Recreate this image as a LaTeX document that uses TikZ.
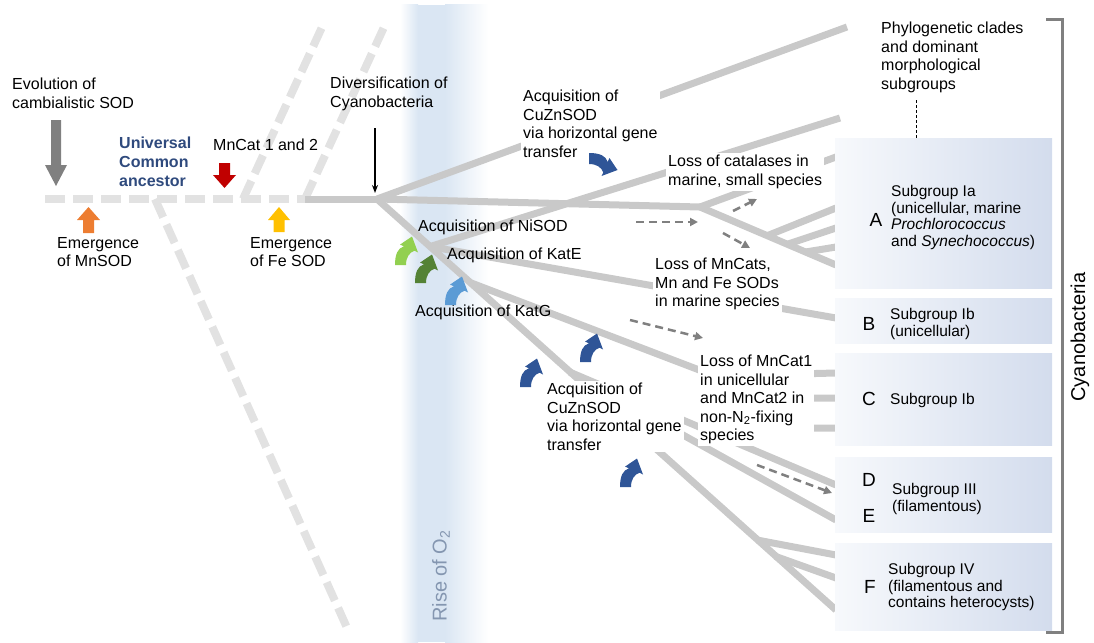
\documentclass[tikz,border=0pt]{standalone}
\usepackage{fontspec}
\setmainfont{Liberation Sans}
\usetikzlibrary{arrows.meta}
\definecolor{treegray}{RGB}{201,201,201}
\definecolor{dashgray}{RGB}{226,226,226}
\definecolor{arrgray}{RGB}{128,128,128}
\definecolor{navy}{RGB}{47,74,125}
\definecolor{bandblue}{RGB}{218,230,243}
\definecolor{boxL}{RGB}{247,249,252}
\definecolor{boxR}{RGB}{211,220,237}
\definecolor{riseblue}{RGB}{132,150,176}
\definecolor{cvgreenL}{RGB}{146,208,80}
\definecolor{cvgreenD}{RGB}{84,130,53}
\definecolor{cvblueL}{RGB}{91,155,213}
\definecolor{cvblueD}{RGB}{47,85,151}
\definecolor{redarr}{RGB}{192,0,0}
\definecolor{orangearr}{RGB}{237,125,49}
\definecolor{yellowarr}{RGB}{255,192,0}
\begin{document}
\begin{tikzpicture}[x=1pt,y=-1pt,
  tree/.style={draw=treegray, line width=7pt},
  dtree/.style={draw=dashgray, line width=8pt, dash pattern=on 20pt off 8pt},
  darr/.style={draw=arrgray, line width=2.5pt, dash pattern=on 8pt off 5pt, -{Triangle[length=8pt,width=8pt]}},
  lbl/.style={anchor=north west, inner sep=0pt, align=left, font=\fontsize{16}{18.5}\selectfont},
  wlbl/.style={lbl, fill=white, inner sep=2pt},
  boxtxt/.style={anchor=north west, inner sep=0pt, align=left, font=\fontsize{15.5}{16.7}\selectfont},
  letter/.style={inner sep=0pt, font=\fontsize{19}{20}\selectfont},
  cladebox/.style={anchor=north west, left color=boxL, right color=boxR, draw=none, minimum width=217pt, inner sep=0pt},
  curvarrow/.pic={\fill (0,0) .. controls (0,-11) and (3,-17) .. (9,-18.7) -- (5,-20.4) -- (17,-28.5) -- (23,-12.5) -- (19.5,-14.3) .. controls (14.5,-12.5) and (11,-8) .. (11,0) -- cycle;}
]
\useasboundingbox (0,0) rectangle (1094,642);

% band
\shade[left color=white, right color=bandblue] (400,5) rectangle (418,642);
\fill[bandblue] (418,5) rectangle (445,642);
\shade[left color=bandblue, right color=white] (445,5) rectangle (488,642);
\node[rotate=90, font=\fontsize{20}{22}\selectfont, text=riseblue] (rise) at (441,576) {Rise of O\textsubscript{2}};

% coordinates
\coordinate (R) at (377,199);
\coordinate (H0) at (45,199);
\coordinate (H1) at (305,199);
\coordinate (DD0) at (155,199);
\coordinate (DD1) at (348,630);
\coordinate (DU0) at (243,199);
\coordinate (DU1) at (323,25);
\coordinate (DV1) at (385,25);
\coordinate (T1) at (847,27);
\coordinate (N2) at (700,207);
\coordinate (FE) at (836,610);
\coordinate (N1) at (430,246.6);
\coordinate (N5) at (470,282.5);
\coordinate (N4) at (570,372.2);
\coordinate (NF1) at (757,540);
\coordinate (NF2) at (775,556.2);
\coordinate (T2) at (840,118);
\coordinate (EB) at (836,318);
\coordinate (NC) at (715,376);
\coordinate (NC2) at (730,398);
\coordinate (NC3) at (740,428);
\coordinate (C1) at (836,373);
\coordinate (C2) at (836,398);
\coordinate (C3) at (836,428);
\coordinate (ED) at (836,485);
\coordinate (EE) at (836,520);
\coordinate (EF1) at (836,555);
\coordinate (EF2) at (836,578);
\coordinate (EA0) at (836,157);
\coordinate (EA4) at (836,265);
\coordinate (S1) at (767,235.8);
\coordinate (S2) at (787,244.4);
\coordinate (S3) at (805,252.1);
\coordinate (EA1) at (836,208);
\coordinate (EA2) at (836,228);
\coordinate (EA3) at (836,247);

% dashed ancestral lines
\path[dtree] (H0) -- (H1);
\path[dtree] (DD0) -- (DD1);
\path[dtree] (DU0) -- (DU1);
\path[dtree] (H1) -- (DV1);

% solid tree
\path[tree] (H1) -- (R);
\path[tree] (R) -- (T1);
\path[tree] (R) -- (N2);
\path[tree] (R) -- (FE);
\path[tree] (N1) -- (T2);
\path[tree] (N1) -- (EB);
\path[tree] (N2) -- (EA0);
\path[tree] (N2) -- (EA4);
\path[tree] (S1) -- (EA1);
\path[tree] (S2) -- (EA2);
\path[tree] (S3) -- (EA3);
\path[tree] (N5) -- (NC) -- (C1);
\path[tree] (NC) -- (NC2) -- (C2);
\path[tree] (NC2) -- (NC3) -- (C3);
\path[tree] (N4) -- (ED);
\path[tree] (N4) -- (EE);
\path[tree] (NF1) -- (EF1);
\path[tree] (NF2) -- (EF2);

% clade boxes
\node[cladebox, minimum height=150pt] (boxA) at (835,138) {};
\node[cladebox, minimum height=45pt] (boxB) at (835,298) {};
\node[cladebox, minimum height=92pt] (boxC) at (835,353) {};
\node[cladebox, minimum height=75pt] (boxD) at (835,457) {};
\node[cladebox, minimum height=87pt] (boxF) at (835,543) {};

\node[letter] (lA) at (876,220) {A};
\node[boxtxt] (tA) at (891,185) {Subgroup Ia\\(unicellular, marine\\\textit{Prochlorococcus}\\and \textit{Synechococcus})};
\node[letter] (lB) at (869,324) {B};
\node[boxtxt] (tB) at (890,308) {Subgroup Ib\\(unicellular)};
\node[letter] (lC) at (869,399) {C};
\node[boxtxt] (tC) at (890,393) {Subgroup Ib};
\node[letter] (lD) at (869,480) {D};
\node[letter] (lE) at (869,516) {E};
\node[boxtxt] (tD) at (892,483) {Subgroup III\\(filamentous)};
\node[letter] (lF) at (870,587) {F};
\node[boxtxt] (tF) at (888,563) {Subgroup IV\\(filamentous and\\contains heterocysts)};

% phylo header
\node[lbl] (phylo) at (881,22) {Phylogenetic clades\\and dominant\\morphological\\subgroups};
\coordinate (ph0) at (916,100);
\coordinate (ph1) at (916,138);
\draw[black, line width=1pt, dash pattern=on 3pt off 2pt] (ph0) -- (ph1);

% bracket
\coordinate (bk0) at (1046,20);
\coordinate (bk1) at (1062,20);
\coordinate (bk2) at (1062,632);
\coordinate (bk3) at (1046,632);
\draw[arrgray, line width=3pt] (bk0) -- (bk1) -- (bk2) -- (bk3);
\node[rotate=90, font=\fontsize{20}{22}\selectfont] (cyano) at (1080,337) {Cyanobacteria};

% left labels
\node[lbl] (evo) at (12,78) {Evolution of\\cambialistic SOD};
\node[lbl, font=\bfseries\fontsize{16}{19}\selectfont, text=navy] (uca) at (119,137) {Universal\\Common\\ancestor};
\node[lbl] (mncat) at (213,139) {MnCat 1 and 2};
\node[lbl] (emn) at (57,237) {Emergence\\of MnSOD};
\node[lbl] (efe) at (250,237) {Emergence\\of Fe SOD};
\node[lbl] (div) at (330,77) {Diversification of\\Cyanobacteria};

% block arrows
\fill[arrgray] (51,120) -- (61,120) -- (61,165) -- (67,165) -- (56,186) -- (45,165) -- (51,165) -- cycle;
\fill[redarr] (219,163) -- (230,163) -- (230,175) -- (236,175) -- (224.5,188) -- (213,175) -- (219,175) -- cycle;
\fill[orangearr] (83,233) -- (94,233) -- (94,220) -- (100,220) -- (88.5,207) -- (77,220) -- (83,220) -- cycle;
\fill[yellowarr] (273.5,232) -- (284.5,232) -- (284.5,220) -- (290,220) -- (279,207) -- (268,220) -- (273.5,220) -- cycle;

% diversification arrow
\coordinate (dv0) at (375,128);
\coordinate (dv1) at (375,193);
\draw[black, line width=1.5pt, -{Stealth[length=8pt,width=6pt]}] (dv0) -- (dv1);

% event labels
\node[wlbl] (cuzn1) at (521,88) {Acquisition of\\CuZnSOD\\via horizontal gene\\transfer};
\node[wlbl] (cat) at (666,153) {Loss of catalases in\\marine, small species};
\node[lbl] (nisod) at (418,220) {Acquisition of NiSOD};
\node[lbl] (kate) at (447,248) {Acquisition of KatE};
\node[lbl] (katg) at (415,305) {Acquisition of KatG};
\node[wlbl] (mncats) at (653,256) {Loss of MnCats,\\Mn and Fe SODs\\in marine species};
\node[wlbl] (mncat1) at (698,353) {Loss of MnCat1\\in unicellular\\and MnCat2 in\\non-N\textsubscript{2}-fixing\\species};
\node[wlbl] (cuzn2) at (545,381) {Acquisition of\\CuZnSOD\\via horizontal gene\\transfer};

% dashed arrows
\coordinate (da1s) at (733,211); \coordinate (da1e) at (757,199);
\coordinate (da2s) at (636,222); \coordinate (da2e) at (698,222);
\coordinate (da3s) at (723,233); \coordinate (da3e) at (750,248);
\coordinate (da4s) at (630,320); \coordinate (da4e) at (703,338);
\coordinate (da5s) at (757,465); \coordinate (da5e) at (832,493);
\draw[darr] (da1s) -- (da1e);
\draw[darr] (da2s) -- (da2e);
\draw[darr] (da3s) -- (da3e);
\draw[darr] (da4s) -- (da4e);
\draw[darr] (da5s) -- (da5e);

% curved arrows
\pic[color=cvgreenL] at (395,265) {curvarrow};
\pic[color=cvgreenD] at (415,283) {curvarrow};
\pic[color=cvblueL] at (445,305) {curvarrow};
\pic[color=cvblueD] at (580,362) {curvarrow};
\pic[color=cvblueD] at (520,387) {curvarrow};
\pic[color=cvblueD] at (620,487) {curvarrow};
\pic[color=cvblueD, rotate=-90] at (589,153) {curvarrow};
\end{tikzpicture}
\end{document}
